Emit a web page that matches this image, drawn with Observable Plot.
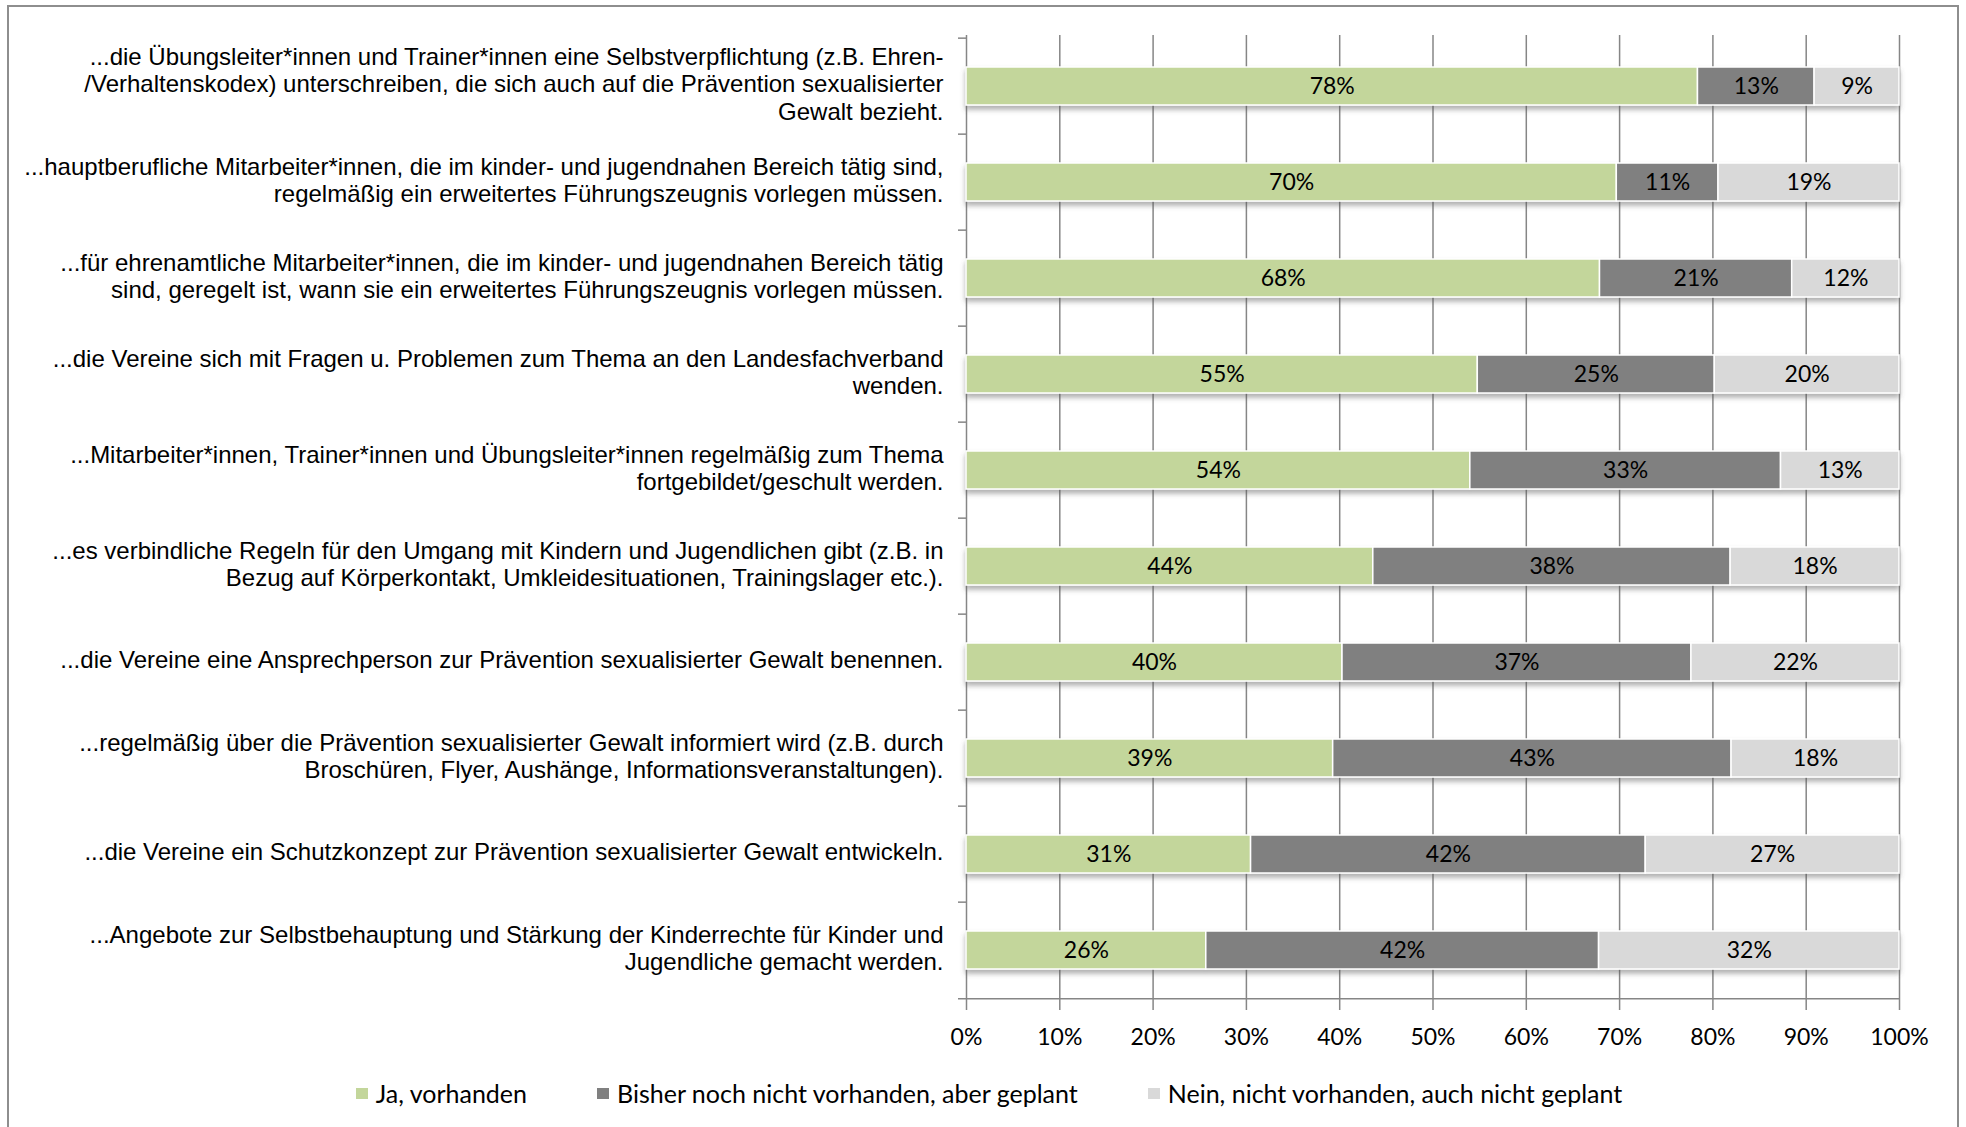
<!DOCTYPE html>
<html>
<head>
<meta charset="utf-8">
<script src="https://cdn.jsdelivr.net/npm/d3@7"></script>
<script src="https://cdn.jsdelivr.net/npm/@observablehq/plot@0.6"></script>
<style>
  html, body { margin: 0; padding: 0; background: #ffffff; }
  #wrap { position: relative; width: 1966px; height: 1127px; overflow: hidden; }
  #frame { position: absolute; left: 7px; top: 5px; width: 1952px; height: 1200px; border: 2px solid #8e8e8e; box-sizing: border-box; }
  #chart { position: absolute; left: 0; top: 0; }
  #legend { position: absolute; left: 6px; top: 1078px; width: 1966px; display: flex; justify-content: center; gap: 70px;
            font-family: Lato, sans-serif; font-size: 25px; line-height: 30px; color: #000; }
  .item { display: flex; align-items: center; white-space: nowrap; }
  .sw { width: 12px; height: 11px; margin-right: 8px; display: inline-block; }
</style>
</head>
<body>
<div id="wrap">
  <div id="frame"></div>
  <div id="chart"></div>
  <div id="legend"></div>
</div>
<script>
const categories = [
  "...die Übungsleiter*innen und Trainer*innen eine Selbstverpflichtung (z.B. Ehren-\n/Verhaltenskodex) unterschreiben, die sich auch auf die Prävention sexualisierter\nGewalt bezieht.",
  "...hauptberufliche Mitarbeiter*innen, die im kinder- und jugendnahen Bereich tätig sind,\nregelmäßig ein erweitertes Führungszeugnis vorlegen müssen.",
  "...für ehrenamtliche Mitarbeiter*innen, die im kinder- und jugendnahen Bereich tätig\nsind, geregelt ist, wann sie ein erweitertes Führungszeugnis vorlegen müssen.",
  "...die Vereine sich mit Fragen u. Problemen zum Thema an den Landesfachverband\nwenden.",
  "...Mitarbeiter*innen, Trainer*innen und Übungsleiter*innen regelmäßig zum Thema\nfortgebildet/geschult werden.",
  "...es verbindliche Regeln für den Umgang mit Kindern und Jugendlichen gibt (z.B. in\nBezug auf Körperkontakt, Umkleidesituationen, Trainingslager etc.).",
  "...die Vereine eine Ansprechperson zur Prävention sexualisierter Gewalt benennen.",
  "...regelmäßig über die Prävention sexualisierter Gewalt informiert wird (z.B. durch\nBroschüren, Flyer, Aushänge, Informationsveranstaltungen).",
  "...die Vereine ein Schutzkonzept zur Prävention sexualisierter Gewalt entwickeln.",
  "...Angebote zur Selbstbehauptung und Stärkung der Kinderrechte für Kinder und\nJugendliche gemacht werden."
];
const seriesNames = [
  "Ja, vorhanden",
  "Bisher noch nicht vorhanden, aber geplant",
  "Nein, nicht vorhanden, auch nicht geplant"
];
const ja      = [78.4, 69.7, 67.9, 54.8, 54.0, 43.6, 40.3, 39.3, 30.5, 25.7];
const geplant = [12.5, 10.9, 20.6, 25.4, 33.3, 38.3, 37.4, 42.7, 42.3, 42.1];
const nein    = [ 9.1, 19.4, 11.5, 19.8, 12.7, 18.1, 22.3, 18.0, 27.2, 32.2];
const xTicks = [0, 10, 20, 30, 40, 50, 60, 70, 80, 90, 100];
const colors = ["#C3D69B", "#808080", "#D9D9D9"];

const seriesValues = [ja, geplant, nein];
const rows = categories.flatMap((c, i) =>
  seriesNames.map((s, j) => ({cat: c, series: s, value: seriesValues[j][i]})));

const W = 1966, H = 1060, mt = 35, mb = 58, ml = 966, mr = 67;
const step = (H - mt - mb) / categories.length;
const grid = "#868686";

const chart = Plot.plot({
  width: W, height: H,
  marginLeft: ml, marginRight: mr, marginTop: mt, marginBottom: mb,
  x: {domain: [0, 100], axis: null},
  y: {domain: categories, paddingInner: 0.6, paddingOuter: 0.3, axis: null},
  color: {domain: seriesNames, range: colors},
  style: {fontFamily: "Lato, sans-serif", background: "transparent", overflow: "visible"},
  marks: [
    Plot.ruleX(xTicks, {stroke: grid, strokeWidth: 1.5}),
    Plot.barX(rows, Plot.stackX({x: "value", y: "cat", fill: "series", stroke: "white", strokeWidth: 1.5})),
    Plot.text(rows, Plot.stackX({x: "value", y: "cat", z: "series",
      text: d => Math.round(d.value) + "%", fontSize: 23, fill: "#000"})),
    Plot.axisX(xTicks, {tickFormat: d => d + "%", tickSize: 8, tickPadding: 18, fontSize: 23,
      stroke: grid, strokeWidth: 1.5, fill: "#000", label: null}),
    Plot.ruleY(categories, {y: d => d, x1: 0, x2: 0, insetLeft: -8, dy: -step / 2, stroke: grid, strokeWidth: 1.5}),
    Plot.ruleY([categories[categories.length - 1]], {y: d => d, x1: 0, x2: 100, insetLeft: -8, dy: step / 2, stroke: grid, strokeWidth: 1.5}),
    Plot.text(categories, {y: d => d, x: 0, dx: -23, dy: -3, textAnchor: "end", text: d => d,
      fontFamily: "'Liberation Sans', Arial, sans-serif", fontSize: 24, lineHeight: 1.15, fill: "#000"})
  ]
});

// soft drop shadow under the bars, as in the original
const svg = d3.select(chart);
const f = svg.insert("defs", ":first-child").append("filter").attr("id", "sh")
  .attr("x", "-2%").attr("y", "-30%").attr("width", "104%").attr("height", "180%");
f.append("feDropShadow").attr("dx", 0).attr("dy", 4).attr("stdDeviation", 2.5)
  .attr("flood-color", "#555").attr("flood-opacity", 0.45);
svg.select('g[aria-label="bar"]').attr("filter", "url(#sh)");

document.getElementById("chart").appendChild(chart);

const legend = d3.select("#legend");
seriesNames.forEach((s, i) => {
  const it = legend.append("div").attr("class", "item");
  it.append("span").attr("class", "sw").style("background", colors[i]);
  it.append("span").text(s);
});
</script>
</body>
</html>
